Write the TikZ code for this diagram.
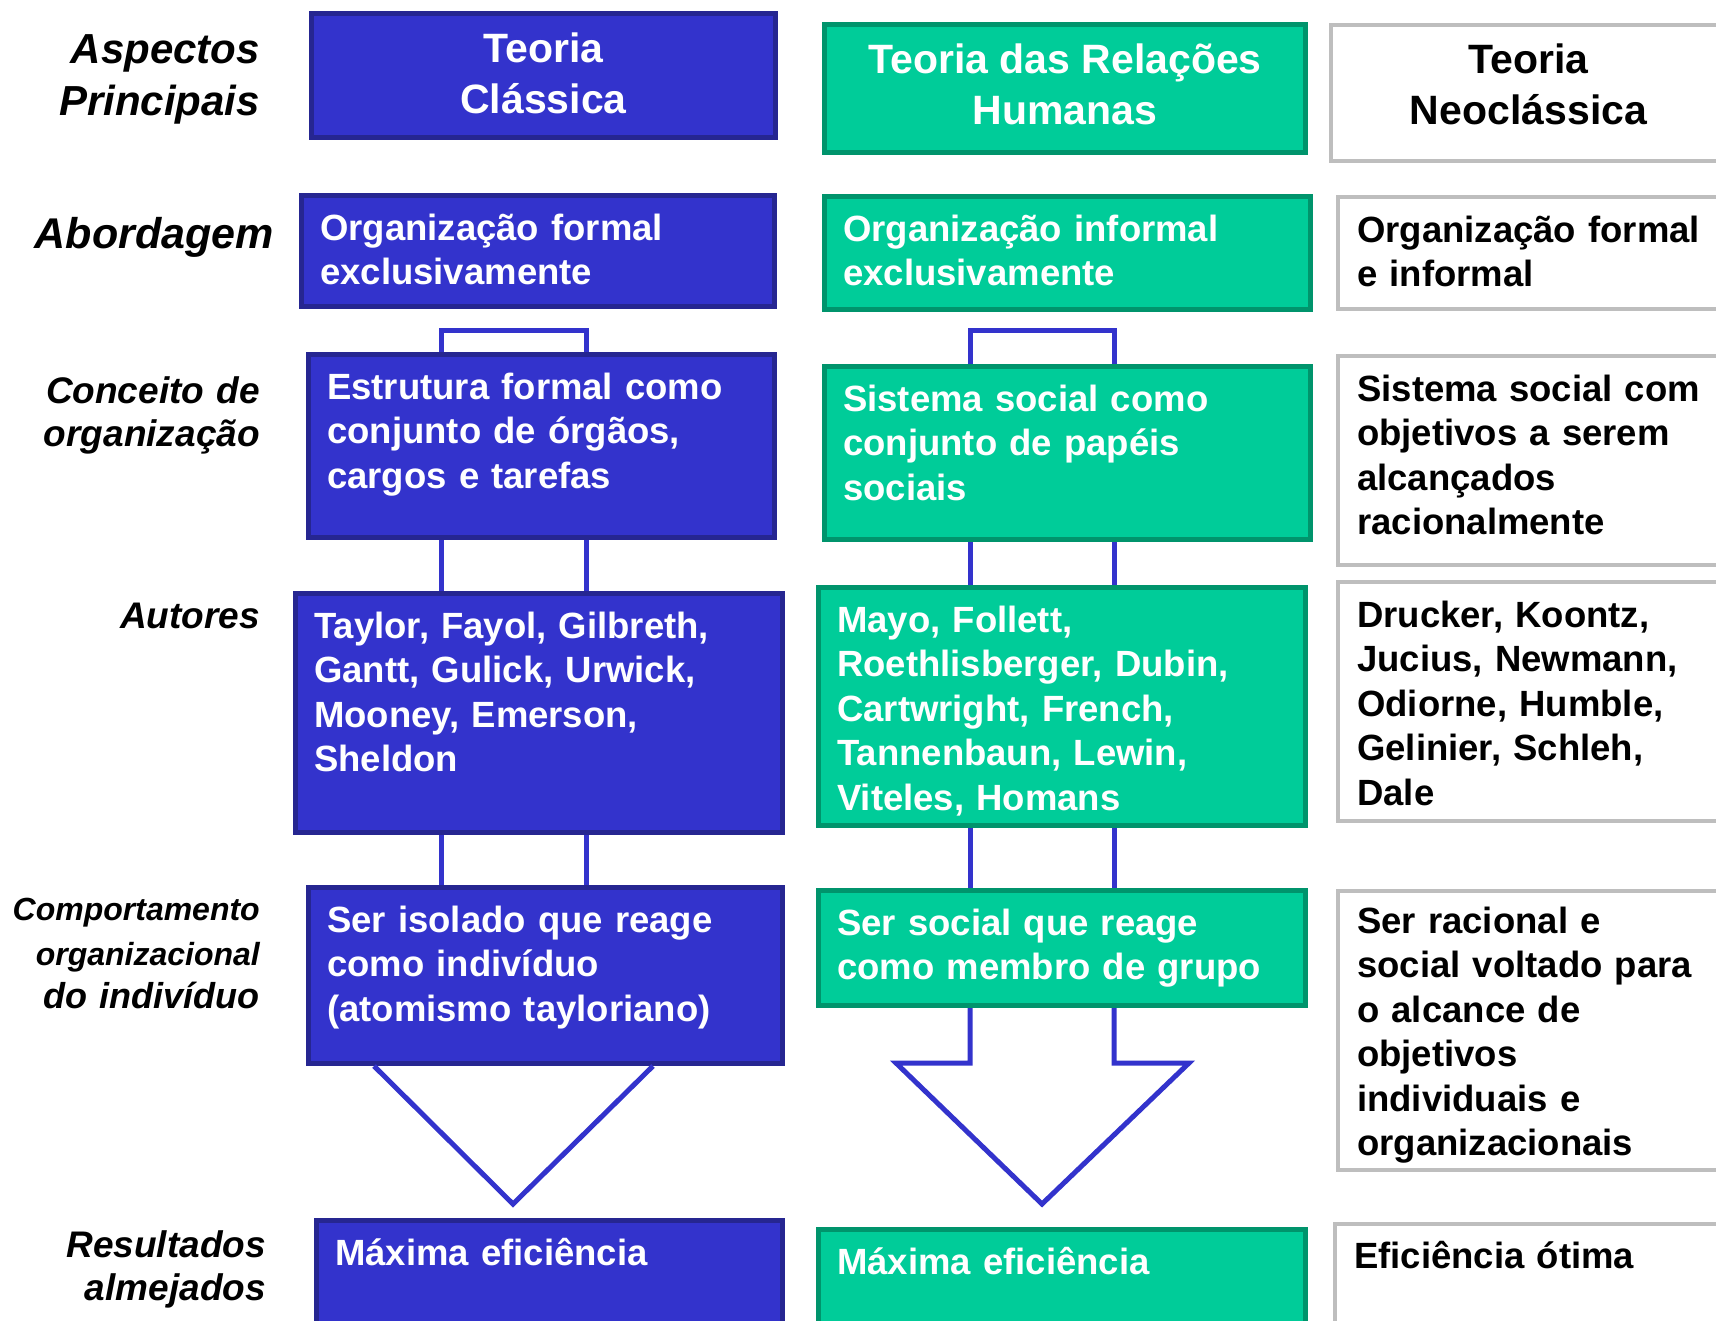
\documentclass[tikz,border=0pt]{standalone}
\usepackage{fontspec}
\setmainfont{Liberation Sans}
\definecolor{clsblue}{RGB}{51,51,204}
\definecolor{clsedge}{RGB}{38,38,145}
\definecolor{relgreen}{RGB}{0,204,153}
\definecolor{reledge}{RGB}{0,148,108}
\definecolor{neogray}{RGB}{190,190,190}
\newcommand{\boxfont}{\fontsize{36.5}{44.5}\selectfont\bfseries}
\newcommand{\headfont}{\fontsize{41}{51}\selectfont\bfseries}
\newcommand{\rowfont}{\fontsize{37}{43.5}\selectfont\bfseries\itshape}

\begin{document}
\begin{tikzpicture}[
    x=1pt, y=-1pt,
    cell/.style={rectangle, anchor=north west, line width=5pt, inner sep=0pt},
    bluebox/.style={cell, draw=clsedge, fill=clsblue},
    greenbox/.style={cell, draw=reledge, fill=relgreen},
    graybox/.style={cell, draw=neogray, line width=4pt, fill=white},
    wh/.style 2 args={minimum width=#1pt-5pt, minimum height=#2pt-5pt},
    headtxt/.style={align=center, inner sep=0pt, font=\headfont},
    boxtxt/.style={anchor=base west, inner sep=0pt, text width=460pt, align=left,
                   font=\boxfont, text=white},
    graytxt/.style={boxtxt, text=black},
    rowlabel/.style={anchor=base east, inner sep=0pt, text width=300pt, align=right,
                     font=\rowfont},
    link/.style={draw=clsblue, line width=5pt}
]
\useasboundingbox (0,0) rectangle (1716,1320);

% row labels
\node[rowlabel, font=\fontsize{42}{52}\selectfont\bfseries\itshape] (lblAspect) at (260,63) {Aspectos\\Principais};
\node[rowlabel, font=\fontsize{43}{52}\selectfont\bfseries\itshape] (lblAbord) at (274,248) {Abordagem};
\node[rowlabel] (lblConc) at (260,403) {Conceito de\\organização};
\node[rowlabel] (lblAut) at (260,628) {Autores};
\node[rowlabel] (lblComp) at (260,920) {\fontsize{32}{45}\selectfont Comportamento\\organizacional\\\fontsize{36}{45}\selectfont do indivíduo};
\node[rowlabel] (lblRes) at (266,1257) {Resultados\\almejados};

% teoria classica
\node[bluebox, wh={469}{129}] (claHead) at (309,11) {};
\node[bluebox, wh={478}{116}] (claAbord) at (299,193) {};
\node[bluebox, wh={471}{188}] (claConc) at (306,352) {};
\node[bluebox, wh={492}{244}] (claAut) at (293,591) {};
\node[bluebox, wh={479}{181}] (claComp) at (306,885) {};
\node[bluebox, wh={471}{125}] (claRes) at (314,1218) {};

\node[headtxt, text=white] (claHeadT) at ([yshift=2pt]claHead.center) {Teoria\\Clássica};
\node[boxtxt] (claAbordT) at ([shift={(21,47)}]claAbord.north west) {Organização formal\\exclusivamente};
\node[boxtxt] (claConcT) at ([shift={(21,47)}]claConc.north west) {Estrutura formal como\\conjunto de órgãos,\\cargos e tarefas};
\node[boxtxt] (claAutT) at ([shift={(21,47)}]claAut.north west) {Taylor, Fayol, Gilbreth,\\Gantt, Gulick, Urwick,\\Mooney, Emerson,\\Sheldon};
\node[boxtxt] (claCompT) at ([shift={(21,47)}]claComp.north west) {Ser isolado que reage\\como indivíduo\\(atomismo tayloriano)};
\node[boxtxt] (claResT) at ([shift={(21,47)}]claRes.north west) {Máxima eficiência};

% teoria das relacoes humanas
\node[greenbox, wh={486}{133}] (relHead) at (822,22) {};
\node[greenbox, wh={491}{118}] (relAbord) at (822,194) {};
\node[greenbox, wh={491}{178}] (relConc) at (822,364) {};
\node[greenbox, wh={492}{243}] (relAut) at (816,585) {};
\node[greenbox, wh={492}{120}] (relComp) at (816,888) {};
\node[greenbox, wh={492}{115}] (relRes) at (816,1227) {};

\node[headtxt, text=white] (relHeadT) at ([yshift=4.5pt]relHead.center) {Teoria das Relações\\Humanas};
\node[boxtxt] (relAbordT) at ([shift={(21,47)}]relAbord.north west) {Organização informal\\exclusivamente};
\node[boxtxt] (relConcT) at ([shift={(21,47)}]relConc.north west) {Sistema social como\\conjunto de papéis\\sociais};
\node[boxtxt] (relAutT) at ([shift={(21,47)}]relAut.north west) {Mayo, Follett,\\Roethlisberger, Dubin,\\Cartwright, French,\\Tannenbaun, Lewin,\\Viteles, Homans};
\node[boxtxt] (relCompT) at ([shift={(21,47)}]relComp.north west) {Ser social que reage\\como membro de grupo};
\node[boxtxt] (relResT) at ([shift={(21,47)}]relRes.north west) {Máxima eficiência};

% teoria neoclassica
\node[graybox, wh={400}{141}] (neoHead) at (1329,23) {};
\node[graybox, wh={400}{117}] (neoAbord) at (1336,195) {};
\node[graybox, wh={400}{214}] (neoConc) at (1336,354) {};
\node[graybox, wh={400}{244}] (neoAut) at (1336,580) {};
\node[graybox, wh={400}{284}] (neoComp) at (1336,889) {};
\node[graybox, wh={400}{120}] (neoRes) at (1333,1222) {};

\node[headtxt] (neoHeadT) at ([yshift=9pt]neoHead.center) {Teoria\\Neoclássica};
\node[graytxt] (neoAbordT) at ([shift={(21,47)}]neoAbord.north west) {Organização formal\\e informal};
\node[graytxt] (neoConcT) at ([shift={(21,47)}]neoConc.north west) {Sistema social com\\objetivos a serem\\alcançados\\racionalmente};
\node[graytxt] (neoAutT) at ([shift={(21,47)}]neoAut.north west) {Drucker, Koontz,\\Jucius, Newmann,\\Odiorne, Humble,\\Gelinier, Schleh,\\Dale};
\node[graytxt] (neoCompT) at ([shift={(21,44)}]neoComp.north west) {Ser racional e\\social voltado para\\o alcance de\\objetivos\\individuais e\\organizacionais};
\node[graytxt] (neoResT) at ([shift={(21,46)}]neoRes.north west) {Eficiência ótima};

% connectors
\coordinate (claL) at (441,0);
\coordinate (claR) at (586,0);
\coordinate (claTipL) at (374,0);
\coordinate (claTipR) at (653,0);
\coordinate (claApex) at (513,1204);
\coordinate (relL) at (970,0);
\coordinate (relR) at (1114,0);
\coordinate (relWingL) at (896,1063);
\coordinate (relWingR) at (1189,1063);
\coordinate (relApex) at (1042,1204);

\draw[link] (claConc.north -| claL) -- ++(0,-22) -| (claConc.north -| claR);
\draw[link] (claConc.south -| claL) -- (claAut.north -| claL);
\draw[link] (claConc.south -| claR) -- (claAut.north -| claR);
\draw[link] (claAut.south -| claL) -- (claComp.north -| claL);
\draw[link] (claAut.south -| claR) -- (claComp.north -| claR);
\draw[link] (claComp.south -| claTipL) -- (claApex) -- (claComp.south -| claTipR);

\draw[link] (relConc.north -| relL) -- ++(0,-34) -| (relConc.north -| relR);
\draw[link] (relConc.south -| relL) -- (relAut.north -| relL);
\draw[link] (relConc.south -| relR) -- (relAut.north -| relR);
\draw[link] (relAut.south -| relL) -- (relComp.north -| relL);
\draw[link] (relAut.south -| relR) -- (relComp.north -| relR);
\draw[link] (relComp.south -| relL) |- (relWingL) -- (relApex) -- (relWingR) -| (relComp.south -| relR);

\end{tikzpicture}
\end{document}
